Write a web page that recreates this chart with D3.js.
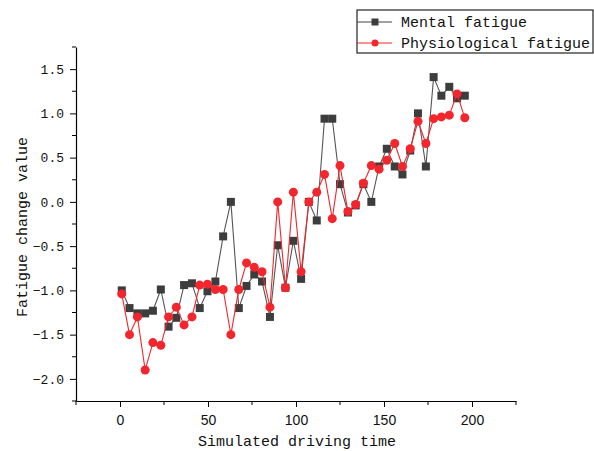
<!DOCTYPE html>
<html>
<head>
<meta charset="utf-8">
<script src="https://cdn.jsdelivr.net/npm/d3@7"></script>
<style>
  html, body { margin: 0; padding: 0; background: #fff; }
  svg { display: block; }
</style>
</head>
<body>
<script>
// Sampling times (simulated driving time)
const times = [1.0, 5.4, 9.9, 14.3, 18.7, 23.2, 27.6, 32.0, 36.4, 40.9, 45.3, 49.7, 54.2, 58.6, 63.0,
  67.5, 71.9, 76.3, 80.7, 85.2, 89.6, 94.0, 98.5, 102.9, 107.3, 111.8, 116.2, 120.6, 125.0, 129.5,
  133.9, 138.3, 142.8, 147.2, 151.6, 156.1, 160.5, 164.9, 169.3, 173.8, 178.2, 182.6, 187.1, 191.5, 195.9];

const mental = [-1.0, -1.2, -1.26, -1.26, -1.23, -0.99, -1.41, -1.31, -0.94, -0.92, -1.2, -1.01, -0.9, -0.39, 0.0,
  -1.2, -0.95, -0.82, -0.9, -1.3, -0.49, -0.97, -0.44, -0.87, 0.0, -0.21, 0.94, 0.94, 0.2, -0.12,
  -0.04, 0.2, 0.0, 0.4, 0.6, 0.4, 0.31, 0.58, 1.0, 0.4, 1.41, 1.2, 1.3, 1.17, 1.2];

const physiological = [-1.04, -1.5, -1.3, -1.9, -1.59, -1.62, -1.3, -1.19, -1.39, -1.3, -0.94, -0.93, -0.99, -0.99, -1.5,
  -0.99, -0.69, -0.74, -0.79, -1.19, 0.0, -0.97, 0.11, -0.79, 0.0, 0.11, 0.31, -0.19, 0.41, -0.11,
  -0.03, 0.21, 0.41, 0.37, 0.47, 0.66, 0.4, 0.6, 0.91, 0.66, 0.94, 0.96, 0.98, 1.22, 0.95];

const seriesNames = ["Mental fatigue", "Physiological fatigue"];
const xTicks = [0, 50, 100, 150, 200];
const yTicks = [-2.0, -1.5, -1.0, -0.5, 0.0, 0.5, 1.0, 1.5];

const W = 594, H = 451;
const margin = { left: 76, right: 78, top: 47, bottom: 50 };
const grey = "#3d3d3d", red = "#f2262c";
const monoFont = "'Liberation Mono', 'DejaVu Sans Mono', monospace";

const svg = d3.select("body").append("svg").attr("width", W).attr("height", H);

const x = d3.scaleLinear().domain([-25, 225]).range([margin.left, W - margin.right]);
const y = d3.scaleLinear().domain([-2.25, 1.75]).range([H - margin.bottom, margin.top]);

// Bottom axis: major and minor ticks
const xAxisG = svg.append("g").attr("transform", `translate(0,${H - margin.bottom})`);
xAxisG.call(d3.axisBottom(x).tickValues(xTicks).tickSize(6).tickSizeOuter(0).tickFormat(d3.format("d")));
xAxisG.call(g => g.selectAll(".minor").data(d3.range(-25, 226, 50)).join("line")
  .attr("class", "minor").attr("x1", d => x(d)).attr("x2", d => x(d)).attr("y1", 0).attr("y2", 4)
  .attr("stroke", "#000"));
xAxisG.selectAll("text").attr("font-family", "'Liberation Sans Narrow', 'Liberation Sans', Arial, sans-serif")
  .attr("font-size", 14).attr("dy", "1.05em").attr("fill", "#111");

// Left axis: major and minor ticks
const yAxisG = svg.append("g").attr("transform", `translate(${margin.left},0)`);
yAxisG.call(d3.axisLeft(y).tickValues(yTicks).tickSize(6).tickSizeOuter(0).tickFormat(d3.format(".1f")));
yAxisG.call(g => g.selectAll(".minor").data(d3.range(-2.25, 1.76, 0.5)).join("line")
  .attr("class", "minor").attr("y1", d => y(d)).attr("y2", d => y(d)).attr("x1", 0).attr("x2", -4)
  .attr("stroke", "#000"));
yAxisG.selectAll("text").attr("font-family", monoFont).attr("font-size", 13)
  .attr("x", -12).attr("fill", "#111");
svg.selectAll(".domain").attr("stroke", "#000").attr("stroke-width", 1.2);

// Axis titles
svg.append("text").attr("x", x(100) + 1).attr("y", 446).attr("text-anchor", "middle")
  .attr("font-family", monoFont).attr("font-size", 15).attr("fill", "#111")
  .text("Simulated driving time");
svg.append("text").attr("transform", `translate(27,${(margin.top + H - margin.bottom) / 2 + 3}) rotate(-90)`)
  .attr("text-anchor", "middle").attr("font-family", monoFont).attr("font-size", 15).attr("fill", "#111")
  .text("Fatigue change value");

// Series lines
const line = d3.line().x(d => x(d[0])).y(d => y(d[1]));
const mentalPts = times.map((t, i) => [t, mental[i]]);
const physPts = times.map((t, i) => [t, physiological[i]]);

svg.append("path").datum(mentalPts).attr("d", line).attr("fill", "none")
  .attr("stroke", "#555").attr("stroke-width", 1.1);
svg.append("g").selectAll("rect").data(mentalPts).join("rect")
  .attr("x", d => x(d[0]) - 4).attr("y", d => y(d[1]) - 4).attr("width", 8).attr("height", 8)
  .attr("fill", grey);

svg.append("path").datum(physPts).attr("d", line).attr("fill", "none")
  .attr("stroke", red).attr("stroke-width", 1.1);
svg.append("g").selectAll("circle").data(physPts).join("circle")
  .attr("cx", d => x(d[0])).attr("cy", d => y(d[1])).attr("r", 4.5)
  .attr("fill", red);

// Legend
const lg = svg.append("g").attr("transform", "translate(357,10)");
lg.append("rect").attr("width", 236).attr("height", 43).attr("fill", "#fff")
  .attr("stroke", "#222").attr("stroke-width", 1.2);
seriesNames.forEach((name, i) => {
  const yy = 12 + i * 21;
  const col = i === 0 ? "#444" : red;
  lg.append("line").attr("x1", 0).attr("x2", 35).attr("y1", yy).attr("y2", yy)
    .attr("stroke", col).attr("stroke-width", 1.2);
  if (i === 0) {
    lg.append("rect").attr("x", 14.5).attr("y", yy - 3.5).attr("width", 7).attr("height", 7).attr("fill", grey);
  } else {
    lg.append("circle").attr("cx", 18).attr("cy", yy).attr("r", 3.5).attr("fill", red);
  }
  lg.append("text").attr("x", 44).attr("y", yy + 5).attr("font-family", monoFont)
    .attr("font-size", 15).attr("fill", "#111").text(name);
});
</script>
</body>
</html>
